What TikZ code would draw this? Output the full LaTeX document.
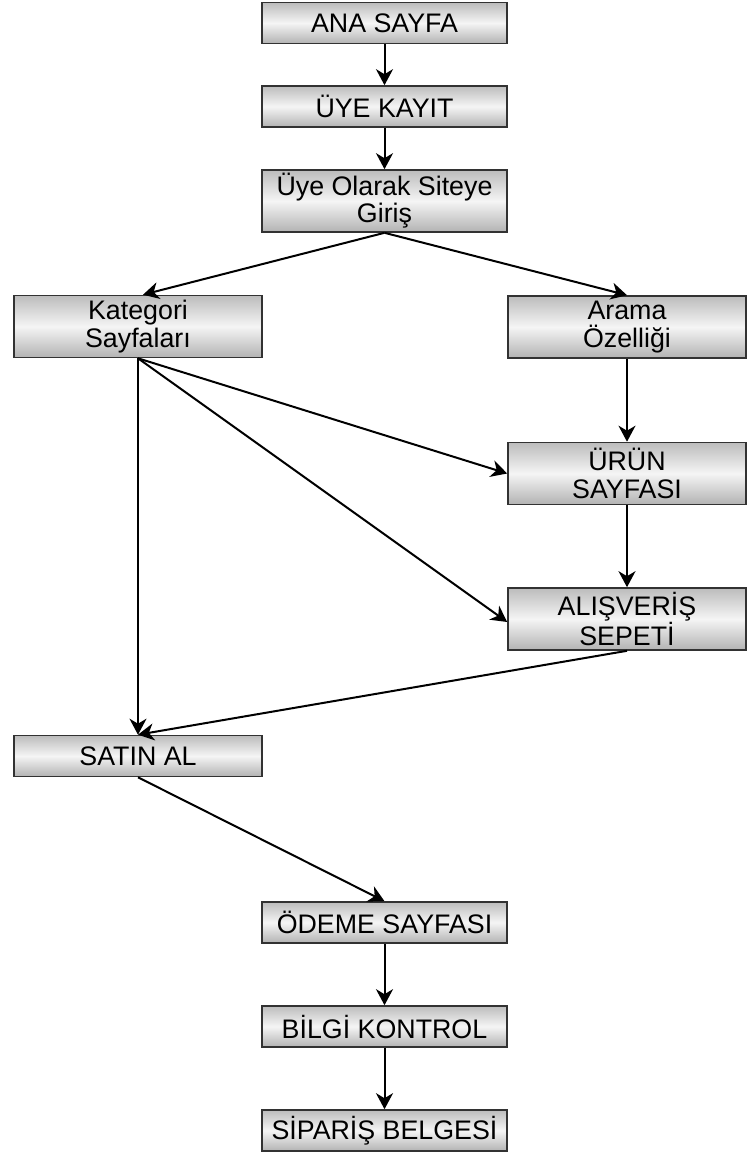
\documentclass[tikz,border=0pt]{standalone}
\usepackage{fontspec}
\setmainfont{Liberation Sans}
\usetikzlibrary{arrows.meta}
\definecolor{boxedge}{RGB}{50,50,50}
\definecolor{boxgray}{RGB}{188,188,188}
\begin{document}
\begin{tikzpicture}[x=0.5pt,y=-0.5pt,
  pagebox/.style={draw=boxedge, line width=0.8pt, inner sep=0pt, align=center,
    top color=boxgray, bottom color=boxgray!95!black, middle color=white!96!black,
    font=\fontsize{13.4}{13.6}\selectfont},
  onebox/.style={pagebox, minimum height=20.5pt},
  twobox/.style={pagebox, minimum height=31pt},
  cw/.style={minimum width=122.5pt},
  lw/.style={minimum width=124pt},
  rw/.style={minimum width=119pt},
  flow/.style={draw=black, line width=1pt, -{Stealth[length=8pt,width=8.5pt,inset=2.5pt]}}]
\useasboundingbox (0,0) rectangle (747,1156);
\node[onebox,cw] (ana) at (384.5,23) {ANA SAYFA};
\node[onebox,cw] (uye) at (384.5,106.5) {ÜYE KAYIT};
\node[twobox,cw] (giris) at (384.5,201) {Üye Olarak Siteye\\Giriş};
\node[twobox,lw] (kat) at (138,326.5) {Kategori\\Sayfaları};
\node[twobox,rw] (arama) at (627,327) {Arama\\Özelliği};
\node[twobox,rw] (urun) at (627,473.5) {ÜRÜN\\SAYFASI};
\node[twobox,rw] (alis) at (627,619) {ALIŞVERİŞ\\SEPETİ};
\node[onebox,lw] (satin) at (138,756) {SATIN AL};
\node[onebox,cw] (odeme) at (384.5,922.5) {ÖDEME SAYFASI};
\node[onebox,cw] (bilgi) at (384.5,1026.5) {BİLGİ KONTROL};
\node[onebox,cw] (siparis) at (384.5,1130.5) {SİPARİŞ BELGESİ};
\draw[flow] (ana) -- (uye);
\draw[flow] (uye) -- (giris);
\draw[flow] (giris.south) -- ([xshift=2.5pt]kat.north);
\draw[flow] (giris.south) -- (arama.north);
\draw[flow] (arama) -- (urun);
\draw[flow] (urun) -- (alis);
\draw[flow] (kat.south) -- (urun.west);
\draw[flow] (kat.south) -- ([yshift=-1.5pt]alis.west);
\draw[flow] (kat.south) -- (satin.north);
\draw[flow] (alis.south) -- (satin.north);
\draw[flow] (satin.south) -- (odeme.north);
\draw[flow] (odeme) -- (bilgi);
\draw[flow] (bilgi) -- (siparis);
\end{tikzpicture}
\end{document}
